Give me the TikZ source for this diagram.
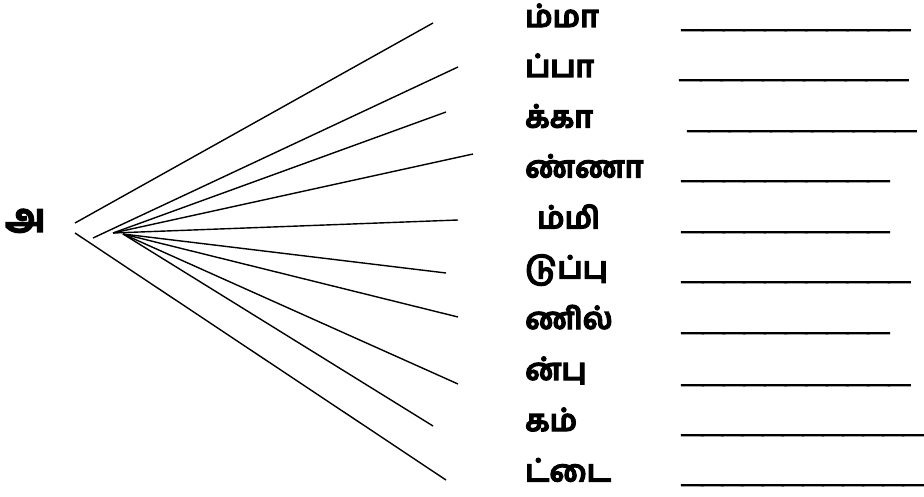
\documentclass[tikz,border=0pt]{standalone}
\usepackage{fontspec}
\newfontfamily\tamil[Script=Tamil,FakeBold=3.5]{Hind Madurai}
\newfontfamily\usc[FakeBold=5]{Liberation Sans}
\def\uu{\textunderscore}
\newcommand\blanks[1]{\scalebox{1.43}[1]{\foreach\k in {1,...,#1}{\uu}}}
\newcommand\sblanks[1]{\scalebox{1.39}[1]{\foreach\k in {1,...,#1}{\uu}}}
\begin{document}
\begin{tikzpicture}[x=1pt,y=-1pt,
  word/.style={anchor=base west,inner sep=0pt,font=\tamil\bfseries\fontsize{30}{30}\selectfont},
  blank/.style={anchor=base west,inner sep=0pt,font=\usc\bfseries\fontsize{26}{26}\selectfont},
  ray/.style={line width=1.4pt}]
\useasboundingbox[fill=white] (0,0) rectangle (924,497);
\node[word,font=\tamil\bfseries\fontsize{40}{40}\selectfont] (root) at (5,232) {அ};
% words
\node[word] (w1) at (525,27) {ம்மா};
\node[word] (w2) at (525,77) {ப்பா};
\node[word] (w3) at (525,127.5) {க்கா};
\node[word] (w4) at (525,177.5) {ண்ணா};
\node[word] (w5) at (537,228.5) {ம்மி};
\node[word] (w6) at (525,278.5) {டுப்பு};
\node[word] (w7) at (525,329) {ணில்};
\node[word] (w8) at (525,380) {ன்பு};
\node[word] (w9) at (525,431) {கம்};
\node[word] (w10) at (525,481.5) {ட்டை};
% blanks
\node[blank] (b1) at (682,27.6) {\blanks{11}};
\node[blank] (b2) at (680,77.6) {\blanks{11}};
\node[blank] (b3) at (688,128.6) {\blanks{11}};
\node[blank] (b4) at (682,178.6) {\blanks{10}};
\node[blank] (b5) at (682,229.6) {\blanks{10}};
\node[blank] (b6) at (682,279.6) {\blanks{11}};
\node[blank] (b7) at (682,330.6) {\blanks{10}};
\node[blank] (b8) at (682,382.6) {\blanks{11}};
\node[blank] (b9) at (682,432.6) {\sblanks{12}};
\node[blank] (b10) at (682,482.6) {\sblanks{12}};
% rays
\coordinate (s1) at (75,223);
\coordinate (s2) at (93,238);
\coordinate (s3) at (113,233);
\coordinate (s4) at (113,233);
\coordinate (s5) at (113,233);
\coordinate (s6) at (123,234);
\coordinate (s7) at (123,234);
\coordinate (s8) at (123,234);
\coordinate (s9) at (123,234);
\coordinate (s10) at (75,233);
\coordinate (e1) at (433,23);
\coordinate (e2) at (458,67);
\coordinate (e3) at (446,112);
\coordinate (e4) at (473,154);
\coordinate (e5) at (458,220);
\coordinate (e6) at (446,273);
\coordinate (e7) at (458,317);
\coordinate (e8) at (458,384);
\coordinate (e9) at (433,426);
\coordinate (e10) at (446,480);
\foreach \i in {1,...,10} {\draw[ray] (s\i) -- (e\i);}
\end{tikzpicture}
\end{document}
